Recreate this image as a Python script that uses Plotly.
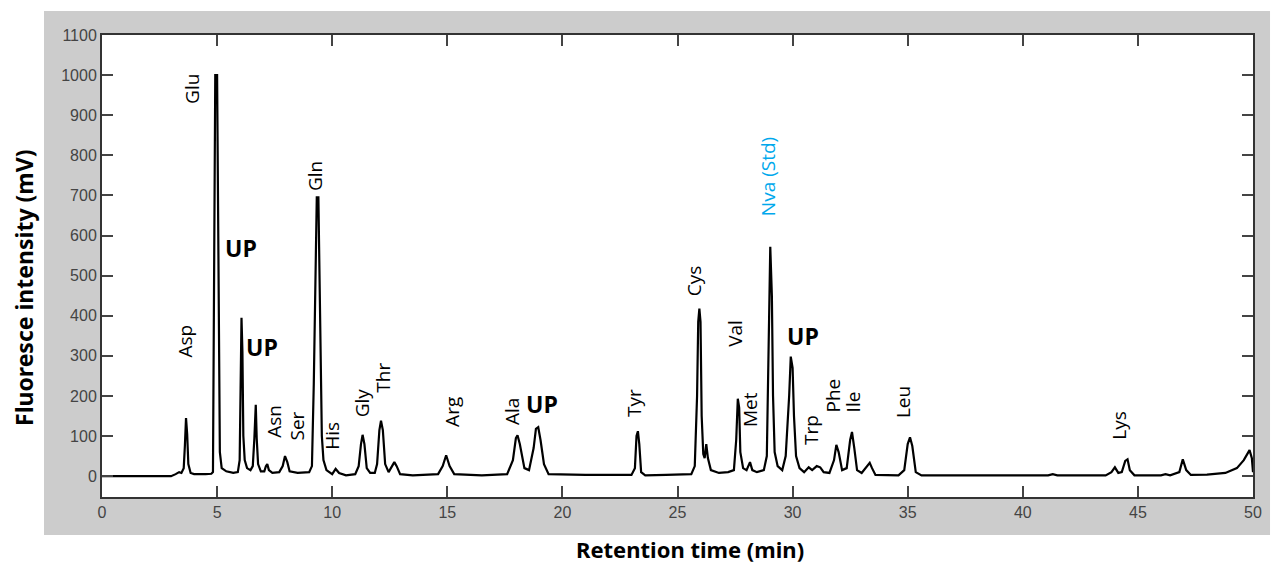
import plotly.graph_objects as go

# Chromatogram trace (retention time in min, intensity in mV)
retention_time = [
    0, 3.0, 3.2, 3.35, 3.45, 3.55, 3.6, 3.65, 3.7, 3.75, 3.85, 4.0, 4.5, 4.75, 4.82,
    4.88, 4.92, 5.0, 5.03, 5.07, 5.12, 5.2, 5.4, 5.7, 5.9, 5.98, 6.03, 6.06, 6.1,
    6.14, 6.2, 6.3, 6.45, 6.55, 6.62, 6.68, 6.72, 6.78, 6.9, 7.05, 7.12, 7.18, 7.25,
    7.4, 7.7, 7.85, 7.95, 8.05, 8.15, 8.5, 9.0, 9.12, 9.2, 9.27, 9.33, 9.4, 9.45,
    9.5, 9.55, 9.62, 9.75, 10.0, 10.15, 10.3, 10.6, 11.0, 11.15, 11.25, 11.32, 11.4,
    11.5, 11.65, 11.85, 11.95, 12.05, 12.12, 12.2, 12.3, 12.45, 12.6, 12.7, 12.8,
    12.95, 13.5, 14.6, 14.8, 14.95, 15.1, 15.3, 16.5, 17.6, 17.85, 17.98, 18.05,
    18.15, 18.35, 18.55, 18.75, 18.85, 18.95, 19.05, 19.2, 19.4, 21.0, 23.0, 23.15,
    23.22, 23.28, 23.34, 23.42, 23.6, 24.5, 25.6, 25.75, 25.85, 25.9, 25.95, 26.0,
    26.05, 26.12, 26.18, 26.25, 26.32, 26.45, 26.8, 27.2, 27.45, 27.55, 27.62, 27.68,
    27.73, 27.85, 28.0, 28.15, 28.25, 28.45, 28.75, 28.88, 28.97, 29.03, 29.1, 29.15,
    29.22, 29.35, 29.55, 29.7, 29.85, 29.92, 30.0, 30.06, 30.15, 30.3, 30.5, 30.7,
    30.85, 31.05, 31.2, 31.35, 31.6, 31.8, 31.9, 32.0, 32.15, 32.35, 32.5, 32.58,
    32.68, 32.8, 33.0, 33.25, 33.35, 33.45, 33.6, 34.6, 34.85, 35.0, 35.1, 35.2,
    35.35, 35.6, 41.1, 41.3, 41.5, 43.6, 43.85, 44.0, 44.15, 44.3, 44.45, 44.55,
    44.65, 44.85, 46.0, 46.2, 46.4, 46.8, 46.95, 47.1, 47.3, 48.0, 48.8, 49.3, 49.6,
    49.85, 49.95, 50.0,
]
intensity = [
    0, 0, 5, 10, 8, 20, 75, 145, 105, 30, 8, 5, 5, 6, 10,
    690, 1000, 1000, 690, 250, 60, 20, 12, 8, 10, 40, 310, 395, 310,
    100, 40, 20, 15, 25, 95, 178, 95, 30, 12, 12, 25, 30, 15,
    8, 10, 25, 50, 35, 12, 8, 10, 25, 230, 550, 695, 695, 470,
    230, 100, 40, 15, 5, 18, 8, 2, 5, 25, 80, 103, 80,
    20, 8, 8, 30, 115, 138, 115, 30, 10, 25, 35, 25,
    5, 2, 5, 25, 52, 25, 5, 2, 5, 40, 95, 102,
    80, 20, 15, 70, 118, 122, 90, 30, 5, 3, 3, 20,
    100, 112, 80, 10, 2, 3, 5, 25, 200, 385, 418, 385,
    150, 55, 45, 80, 45, 15, 8, 10, 15, 90, 193, 170,
    60, 20, 15, 35, 15, 10, 15, 50, 360, 572, 450, 200,
    60, 25, 15, 50, 200, 298, 270, 150, 50, 20, 10, 22,
    15, 25, 22, 10, 8, 40, 78, 60, 15, 20, 90, 110,
    70, 15, 8, 28, 33, 20, 3, 2, 15, 80, 97, 75,
    10, 2, 2, 5, 2, 2, 10, 22, 8, 10, 38, 42,
    15, 2, 2, 5, 2, 10, 42, 15, 3, 4, 8, 20, 40,
    65, 45, 10,
]

# Peak labels (name, retention time and intensity of the label centre)
label_names = ["Asp", "Glu", "Asn", "Ser", "Gln", "His", "Gly", "Thr", "Arg", "Ala",
               "Tyr", "Cys", "Val", "Met", "Trp", "Phe", "Ile", "Leu", "Lys"]
label_time = [3.6, 3.9, 7.5, 8.45, 9.25, 9.98, 11.3, 12.2, 15.2, 17.8,
              23.1, 25.75, 27.5, 28.15, 30.8, 31.77, 32.6, 34.8, 44.2]
label_level = [338, 965, 137, 125, 748, 100, 182, 245, 160, 162,
               182, 488, 355, 165, 115, 202, 185, 185, 127]

up_time = [6.05, 6.97, 19.1, 30.45]
up_level = [570, 322, 180, 350]

std_name = "Nva (Std)"
std_time = 28.93
std_level = 748

x_ticks = [0, 5, 10, 15, 20, 25, 30, 35, 40, 45, 50]
y_ticks = [0, 100, 200, 300, 400, 500, 600, 700, 800, 900, 1000, 1100]

x_title = "Retention time (min)"
y_title = "Fluoresce intensity (mV)"

fig = go.Figure()
fig.add_trace(go.Scatter(x=retention_time, y=intensity, mode="lines",
                         line=dict(color="black", width=2.2), hoverinfo="skip",
                         showlegend=False))

label_font = dict(family="Open Sans, Arial, sans-serif", size=19, color="black")
annotations = []
for name, t, v in zip(label_names, label_time, label_level):
    annotations.append(dict(x=t, y=v, text=name, textangle=-90, showarrow=False,
                            xanchor="center", yanchor="middle", font=label_font))
for t, v in zip(up_time, up_level):
    annotations.append(dict(x=t, y=v, text="<b>UP</b>", showarrow=False,
                            xanchor="center", yanchor="middle",
                            font=dict(family="Open Sans, Arial, sans-serif", size=23,
                                      color="black")))
annotations.append(dict(x=std_time, y=std_level, text=std_name, textangle=-90,
                        showarrow=False, xanchor="center", yanchor="middle",
                        font=dict(family="Open Sans, Arial, sans-serif", size=19,
                                  color="#00a8ec")))

title_font = dict(family="Noto Sans, Open Sans, sans-serif", color="black")
annotations.append(dict(xref="paper", yref="paper", x=(690 - 102) / 1151,
                        y=(497 - 549) / 462, text="<b>" + x_title + "</b>",
                        showarrow=False, xanchor="center", yanchor="middle",
                        font=dict(size=22, **title_font)))
annotations.append(dict(xref="paper", yref="paper", x=(24 - 102) / 1151,
                        y=(497 - 288) / 462, text="<b>" + y_title + "</b>",
                        textangle=-90, showarrow=False, xanchor="center",
                        yanchor="middle", font=dict(size=23, **title_font)))

axis_common = dict(showgrid=False, zeroline=False, showline=True, linecolor="#333333",
                   linewidth=2, mirror="allticks", ticks="inside", ticklen=11,
                   tickwidth=1.5, tickcolor="#444444", automargin=False,
                   tickfont=dict(family="Arial, Liberation Sans, sans-serif", size=16,
                                 color="#444444"))

fig.update_layout(
    width=1271, height=564,
    margin=dict(l=102, r=18, t=35, b=67, autoexpand=False),
    paper_bgcolor="white", plot_bgcolor="white",
    annotations=annotations,
    xaxis=dict(range=[0, 50], tickvals=x_ticks, **axis_common),
    yaxis=dict(range=[-52, 1100], tickvals=y_ticks, **axis_common),
    shapes=[
        dict(type="rect", xref="paper", yref="paper", x0=-0.0504, x1=1.0148,
             y0=-0.0823, y1=1.052, fillcolor="#cccccc", line=dict(width=0),
             layer="below"),
        dict(type="rect", xref="paper", yref="paper", x0=0, x1=1, y0=0, y1=1,
             fillcolor="white", line=dict(width=0), layer="below"),
    ],
)

fig.write_html("out.html")
